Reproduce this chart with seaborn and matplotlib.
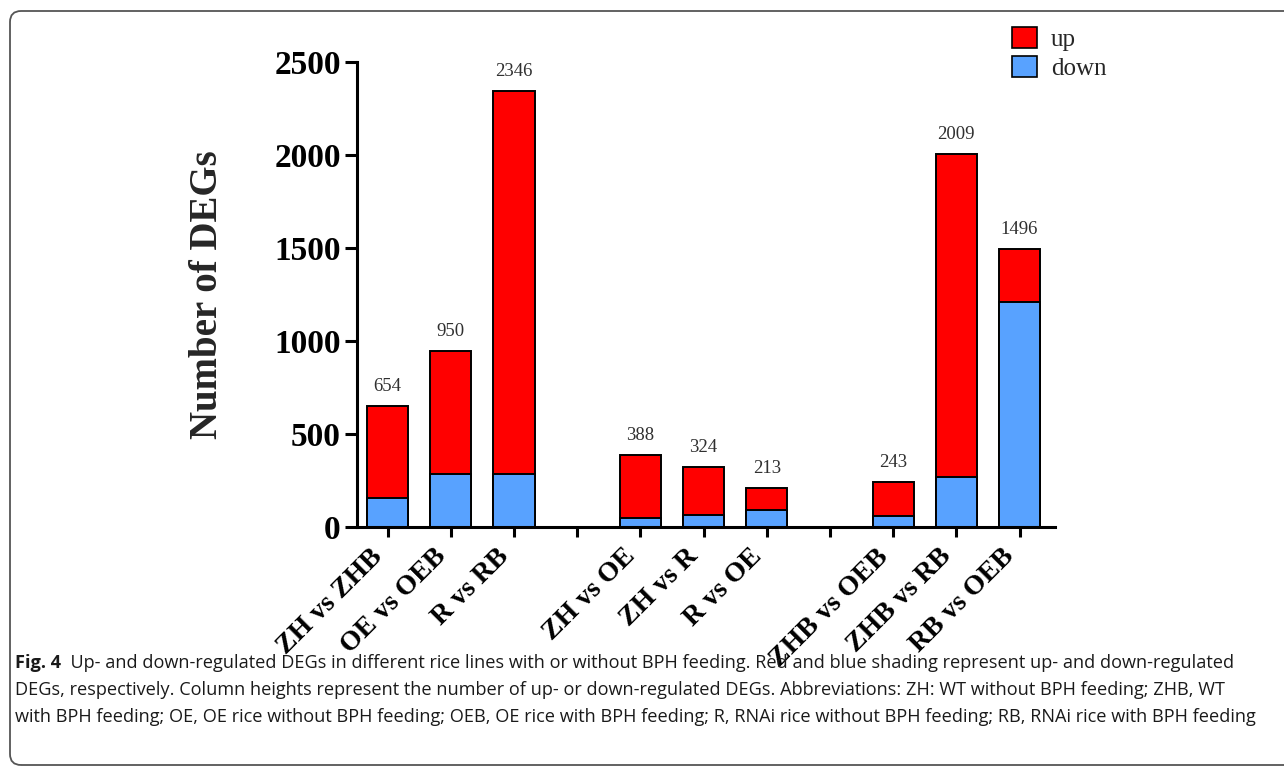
import matplotlib
matplotlib.use("Agg")
import matplotlib.pyplot as plt
import matplotlib.transforms as mtransforms
import seaborn as sns
import pandas as pd
from matplotlib.patches import Patch, FancyBboxPatch

# ---- data ----
comparisons = ["ZH vs ZHB", "OE vs OEB", "R vs RB",
               "ZH vs OE", "ZH vs R", "R vs OE",
               "ZHB vs OEB", "ZHB vs RB", "RB vs OEB"]
totals = [654, 950, 2346, 388, 324, 213, 243, 2009, 1496]
down = [160, 285, 285, 52, 68, 93, 61, 271, 1210]
gap_slots = ["gap1", "gap2"]
order = comparisons[:3] + [gap_slots[0]] + comparisons[3:6] + [gap_slots[1]] + comparisons[6:]
y_ticks = [0, 500, 1000, 1500, 2000, 2500]
legend_labels = ["up", "down"]

RED = "#FF0000"
BLUE = "#58A2FF"

df = pd.DataFrame({"comparison": comparisons, "total": totals, "down": down})

sns.set_style("ticks")
plt.rcParams["font.family"] = ["Liberation Serif", "DejaVu Serif"]

fig = plt.figure(figsize=(12.84, 7.66), dpi=100)
ax = fig.add_axes([0.2778, 0.3116, 0.5438, 0.607])

sns.barplot(data=df, x="comparison", y="total", order=order, color=RED,
            saturation=1, width=0.65, edgecolor="black", linewidth=1.4, ax=ax)
sns.barplot(data=df, x="comparison", y="down", order=order, color=BLUE,
            saturation=1, width=0.65, edgecolor="black", linewidth=1.4, ax=ax)

# value labels above bars
for name, tot in zip(comparisons, totals):
    xi = order.index(name)
    ax.annotate(str(tot), xy=(xi, tot), xytext=(0, 8), textcoords="offset points",
                ha="center", va="bottom", fontsize=13.5, color="#303030",
                family=["Liberation Serif", "DejaVu Serif"])

ax.set_xlim(-0.49, 10.56)
ax.set_ylim(0, 2500)
ax.set_yticks(y_ticks)
ax.set_yticklabels([str(t) for t in y_ticks], fontsize=24, fontweight="bold")
ax.set_xticks(range(len(order)))
ax.set_xticklabels(["" if o in gap_slots else o for o in order],
                   rotation=45, ha="right", fontsize=20, fontweight="bold")
shift = mtransforms.ScaledTranslation(6 / 100, 0, fig.dpi_scale_trans)
for lbl in ax.get_xticklabels():
    lbl.set_transform(lbl.get_transform() + shift)
ax.set_xlabel("")
ax.set_ylabel("Number of DEGs", fontsize=28, fontweight="bold")
ax.yaxis.set_label_coords(-0.187, 0.5)

for s in ["top", "right"]:
    ax.spines[s].set_visible(False)
for s in ["left", "bottom"]:
    ax.spines[s].set_linewidth(2.2)
    ax.spines[s].set_color("black")
ax.tick_params(axis="y", length=8.5, width=2.2, pad=3, colors="black")
ax.tick_params(axis="x", length=7, width=2.2, pad=5, colors="black")

handles = [Patch(facecolor=RED, edgecolor="black", linewidth=1.2),
           Patch(facecolor=BLUE, edgecolor="black", linewidth=1.2)]
fig.legend(handles, legend_labels, loc="upper left",
           bbox_to_anchor=(1012 / 1284, 1 - 27 / 766), bbox_transform=fig.transFigure,
           frameon=False, fontsize=18, handlelength=1.0, handleheight=0.93,
           handletextpad=0.55, labelspacing=0.2, borderpad=0, borderaxespad=0)

# outer rounded frame (open on the right, runs off the canvas)
frame = FancyBboxPatch((0.10, 0.01), 14.5, 7.54,
                       boxstyle="round,pad=0,rounding_size=0.11",
                       transform=fig.dpi_scale_trans, fill=False,
                       edgecolor="#555555", linewidth=1.3, clip_on=False)
fig.patches.append(frame)

# caption
cap_font = ["Open Sans", "DejaVu Sans"]
cap_size = 13.1
line1_rest = "  Up- and down-regulated DEGs in different rice lines with or without BPH feeding. Red and blue shading represent up- and down-regulated"
line2 = "DEGs, respectively. Column heights represent the number of up- or down-regulated DEGs. Abbreviations: ZH: WT without BPH feeding; ZHB, WT"
line3 = "with BPH feeding; OE, OE rice without BPH feeding; OEB, OE rice with BPH feeding; R, RNAi rice without BPH feeding; RB, RNAi rice with BPH feeding"

x0 = 15 / 1284
t_bold = fig.text(x0, 1 - 663 / 766, "Fig. 4", fontsize=cap_size, fontweight="bold",
                  family=cap_font, va="center", ha="left", color="#1a1a1a")
fig.canvas.draw()
ax.annotate(line1_rest, xy=(1, 0.5), xycoords=t_bold, va="center", ha="left",
            fontsize=cap_size, family=cap_font, color="#1a1a1a", annotation_clip=False)
fig.text(x0, 1 - 690 / 766, line2, fontsize=cap_size, family=cap_font,
         va="center", ha="left", color="#1a1a1a")
fig.text(x0, 1 - 717 / 766, line3, fontsize=cap_size, family=cap_font,
         va="center", ha="left", color="#1a1a1a")

fig.savefig("out.png", dpi=100)
